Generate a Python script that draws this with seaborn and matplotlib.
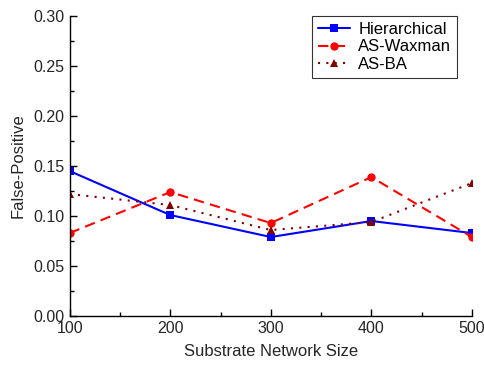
import pandas as pd
import seaborn as sns
import matplotlib.pyplot as plt
from matplotlib.ticker import MultipleLocator

# Datos
tamanos = [100, 200, 300, 400, 500]
hierarchical = [0.145, 0.101, 0.079, 0.095, 0.083]
as_waxman = [0.083, 0.124, 0.093, 0.139, 0.079]
as_ba = [0.122, 0.111, 0.086, 0.094, 0.133]
series = ['Hierarchical', 'AS-Waxman', 'AS-BA']

df = pd.DataFrame({
    'size': tamanos * 3,
    'fp': hierarchical + as_waxman + as_ba,
    'serie': [s for s in series for _ in tamanos],
})

sns.set_style('ticks')
plt.rcParams['font.family'] = ['Liberation Sans', 'DejaVu Sans']

fig = plt.figure(figsize=(4.84, 3.67), dpi=100)
ax = fig.add_axes([0.144, 0.139, 0.831, 0.817])

colores = {'Hierarchical': '#0000ff', 'AS-Waxman': '#ff0000', 'AS-BA': '#800000'}
marcas = {'Hierarchical': 's', 'AS-Waxman': 'o', 'AS-BA': '^'}
trazos = {'Hierarchical': '', 'AS-Waxman': (5, 3), 'AS-BA': (1, 3)}

sns.lineplot(data=df, x='size', y='fp', hue='serie', style='serie',
             hue_order=series, style_order=series,
             palette=colores, markers=marcas, dashes=trazos,
             linewidth=1.5, markersize=6, markeredgewidth=0, ax=ax)

ax.set_xlim(100, 500)
ax.set_ylim(0, 0.30)
ax.xaxis.set_major_locator(MultipleLocator(100))
ax.xaxis.set_minor_locator(MultipleLocator(50))
ax.yaxis.set_major_locator(MultipleLocator(0.05))
ax.yaxis.set_minor_locator(MultipleLocator(0.025))
ax.yaxis.set_major_formatter(plt.FormatStrFormatter('%.2f'))
ax.tick_params(which='both', direction='in', labelsize=11.5, color='black')
ax.tick_params(which='major', length=5, width=1)
ax.tick_params(which='minor', length=3, width=1)
for lado in ['top', 'right']:
    ax.spines[lado].set_visible(False)
for lado in ['left', 'bottom']:
    ax.spines[lado].set_color('black')
    ax.spines[lado].set_linewidth(1)

ax.set_xlabel('Substrate Network Size', fontsize=12, labelpad=6)
ax.set_ylabel('False-Positive', fontsize=12, labelpad=6)

leg = ax.legend(loc='upper right', bbox_to_anchor=(0.963, 1.0), fontsize=12,
                frameon=True, fancybox=False, edgecolor='black',
                handlelength=1.9, handletextpad=0.5, labelspacing=0.15,
                borderpad=0.35, borderaxespad=0)
leg.get_frame().set_linewidth(0.8)
for t in leg.get_texts():
    t.set_color('black')

plt.savefig('out.png', dpi=100)
